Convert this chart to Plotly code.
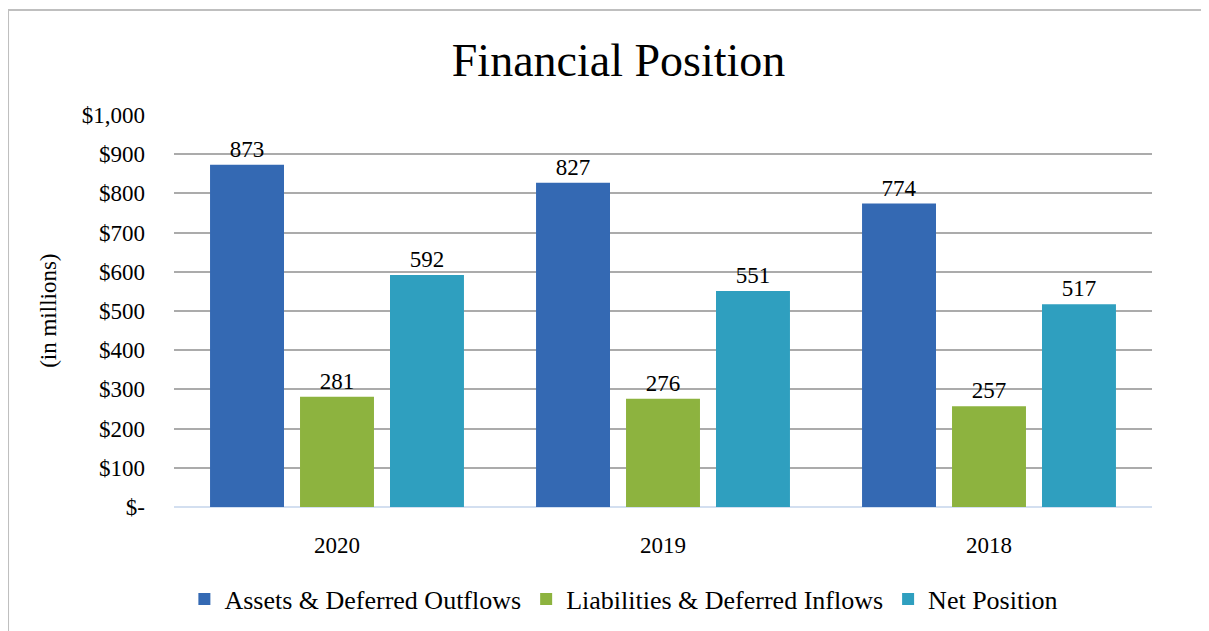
import plotly.graph_objects as go

# Datos del gráfico
anios = ['2020', '2019', '2018']
activos = [873, 827, 774]
pasivos = [281, 276, 257]
posicion_neta = [592, 551, 517]

series = ['Assets & Deferred Outflows', 'Liabilities & Deferred Inflows', 'Net Position']
colores = ['#3469b3', '#8db33f', '#2f9fbf']

ticks_y = [0, 100, 200, 300, 400, 500, 600, 700, 800, 900, 1000]
etiquetas_y = ['$-', '$100', '$200', '$300', '$400', '$500', '$600',
               '$700', '$800', '$900', '$1,000']

FUENTE = 'Liberation Serif'

fig = go.Figure()
for nombre, valores, color in zip(series, [activos, pasivos, posicion_neta], colores):
    fig.add_trace(go.Bar(
        x=anios,
        y=valores,
        name=nombre,
        marker=dict(color=color, line=dict(width=0)),
        text=valores,
        textposition='outside',
        textfont=dict(family=FUENTE, size=23, color='black'),
        cliponaxis=False,
    ))

fig.update_layout(
    width=1209,
    height=631,
    barmode='group',
    bargap=0.172,
    bargroupgap=0.178,
    paper_bgcolor='white',
    plot_bgcolor='white',
    font=dict(family=FUENTE, size=23, color='black'),
    margin=dict(l=166, r=65, t=107, b=132),
    title=dict(
        text='Financial Position',
        font=dict(family=FUENTE, size=46, color='black'),
        x=0.505,
        xanchor='center',
        y=0.918,
        yanchor='middle',
    ),
    showlegend=True,
    legend=dict(
        orientation='h',
        x=0.46,
        xanchor='center',
        y=-0.235,
        yanchor='middle',
        font=dict(family=FUENTE, size=26, color='black'),
        traceorder='normal',
    ),
    annotations=[dict(
        text='(in millions)',
        xref='paper', yref='paper',
        x=-0.129, y=0.5,
        xanchor='center', yanchor='middle',
        textangle=-90,
        showarrow=False,
        font=dict(family=FUENTE, size=23, color='black'),
    )],
    shapes=[dict(
        type='rect',
        xref='paper', yref='paper',
        x0=-0.1697, x1=1.08,
        y0=-0.36, y1=1.268,
        line=dict(color='#bfbfbf', width=2),
        fillcolor='rgba(0,0,0,0)',
        layer='below',
    )],
)

fig.update_xaxes(
    showgrid=False,
    showline=False,
    ticks='',
    ticklabelstandoff=22,
    tickfont=dict(family=FUENTE, size=23, color='black'),
)

fig.update_yaxes(
    range=[0, 1000],
    tickvals=ticks_y,
    ticktext=etiquetas_y,
    showgrid=True, gridwidth=2, gridcolor='#ababab',
    zeroline=True, zerolinewidth=2, zerolinecolor='#d3dff0',
    showline=False,
    ticks='',
    ticklabelstandoff=28,
    tickfont=dict(family=FUENTE, size=23, color='black'),
)

fig.write_html('out.html')
